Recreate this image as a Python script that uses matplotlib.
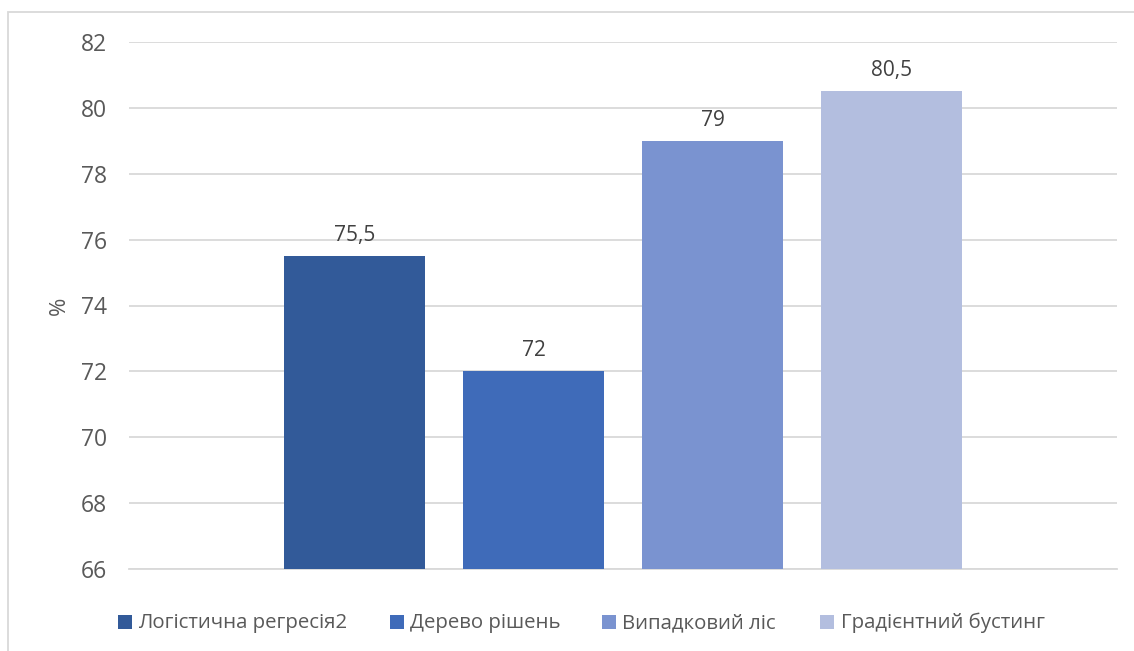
import matplotlib
matplotlib.use("Agg")
import matplotlib.pyplot as plt
from matplotlib.patches import Rectangle

series = ["Логістична регресія2", "Дерево рішень", "Випадковий ліс", "Градієнтний бустинг"]
values = [75.5, 72, 79, 80.5]
labels = ["75,5", "72", "79", "80,5"]
colors = ["#325A99", "#3F6BB9", "#7A93D0", "#B3BEDF"]
yticks = [66, 68, 70, 72, 74, 76, 78, 80, 82]

plt.rcParams['font.family'] = ['Open Sans', 'DejaVu Sans']

W, H = 1134, 651
fig = plt.figure(figsize=(W / 100, H / 100), dpi=100)
ax = fig.add_axes([129 / W, 1 - 569 / H, (1117 - 129) / W, (569 - 42) / H])

pos = list(range(len(values)))
ax.bar(pos, [v - 66 for v in values], bottom=66, width=0.793, color=colors, zorder=3)
for p, v, l in zip(pos, values, labels):
    ax.annotate(l, (p, v), xytext=(0, 11), textcoords="offset points",
                ha="center", va="baseline", fontsize=15, color="#404040")

ax.set_xlim(-1.26, 4.26)
ax.set_ylim(66, 82)
ax.set_yticks(yticks)
ax.set_yticklabels([str(t) for t in yticks])
ax.tick_params(axis="y", length=0, pad=16, labelsize=16.5, labelcolor="#595959")
ax.set_xticks([])
ax.yaxis.grid(True, color="#D9D9D9", linewidth=1.3, zorder=0)
ax.set_axisbelow(True)
for s in ["top", "right", "left"]:
    ax.spines[s].set_visible(False)
ax.spines["bottom"].set_color("#D9D9D9")
ax.spines["bottom"].set_linewidth(1.3)
ax.set_ylabel("%", fontsize=16, color="#595959")
ax.yaxis.set_label_coords((70 - 129) / 988, 0.50)

# legend drawn manually (Excel-style)
sq_x = [118, 390, 602, 820]
txt_x = [138, 410, 622, 841]
leg_y = 622
for c, name, sx, tx in zip(colors, series, sq_x, txt_x):
    fig.patches.append(Rectangle((sx / W, 1 - (leg_y + 7) / H), 14 / W, 14 / H,
                                 transform=fig.transFigure, facecolor=c, edgecolor="none"))
    fig.text(tx / W, 1 - (leg_y + 6) / H, name, fontsize=14.7, color="#595959",
             ha="left", va="baseline")

fig.patches.append(Rectangle((8 / W, -0.05), 1.1, 1 - 12 / H + 0.05, transform=fig.transFigure,
                             fill=False, edgecolor="#D9D9D9", linewidth=1.3))

fig.savefig("out.png", dpi=100)
